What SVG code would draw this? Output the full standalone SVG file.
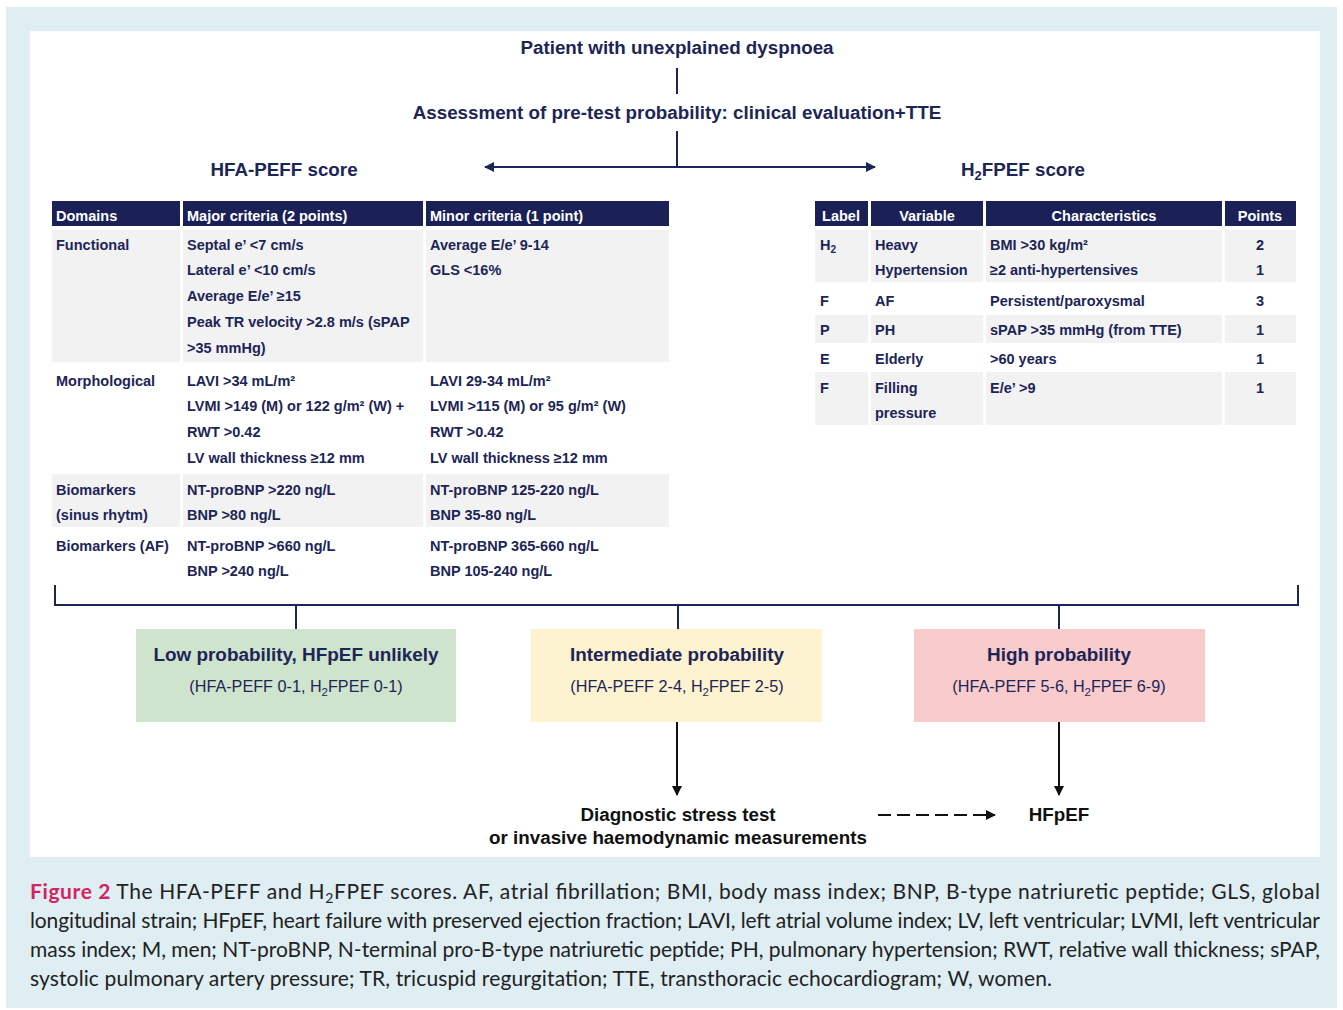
<svg xmlns="http://www.w3.org/2000/svg" width="1343" height="1010" viewBox="0 0 1343 1010">
<defs>
<style>
.t{font-family:"Liberation Sans",Arial,sans-serif;font-weight:bold;fill:#1d2556}
.h1{font-size:18.8px}
.c{font-size:14.5px}
.hd{font-size:14.5px;fill:#fff}
.bx{font-size:18.9px}
.sb{font-family:"Liberation Sans",Arial,sans-serif;font-size:16.2px;fill:#1d2556}
.k{font-family:"Liberation Sans",Arial,sans-serif;font-weight:bold;font-size:18.8px;fill:#111}
.cap{font-family:Lato,"Open Sans",sans-serif;font-size:21px;fill:#222}
.hdr{fill:#1b2157}
.g{fill:#f2f2f2}
.ln{stroke:#1d2556;stroke-width:2;fill:none}
.bk{stroke:#111;stroke-width:2;fill:none}
</style>
<marker id="an" viewBox="0 0 10 10" refX="9" refY="5" markerWidth="5" markerHeight="5" orient="auto-start-reverse"><path d="M0,0L10,5L0,10z" fill="#1d2556"/></marker>
<marker id="ak" viewBox="0 0 10 10" refX="9" refY="5" markerWidth="5" markerHeight="5" orient="auto-start-reverse"><path d="M0,0L10,5L0,10z" fill="#111"/></marker>
</defs>
<rect x="6" y="7" width="1331" height="1001" fill="#deeef3"/>
<rect x="30" y="31" width="1290" height="826" fill="#fff"/>

<g id="title">
<text class="t h1" x="677" y="54" text-anchor="middle">Patient with unexplained dyspnoea</text>
</g>
<g id="assessment">
<text class="t h1" x="677" y="119" text-anchor="middle">Assessment of pre-test probability: clinical evaluation+TTE</text>
</g>
<g id="hfa-title">
<text class="t h1" x="284" y="176" text-anchor="middle">HFA-PEFF score</text>
</g>
<g id="h2-title">
<text class="t h1" x="1023" y="176" text-anchor="middle">H<tspan font-size="13" dy="4">2</tspan><tspan dy="-4">FPEF score</tspan></text>
</g>

<g id="hfa-table">
<rect class="hdr" x="52" y="201" width="128" height="25"/>
<rect class="hdr" x="183" y="201" width="240" height="25"/>
<rect class="hdr" x="426" y="201" width="243" height="25"/>
<text class="t hd" x="56" y="221">Domains</text>
<text class="t hd" x="187" y="221">Major criteria (2 points)</text>
<text class="t hd" x="430" y="221">Minor criteria (1 point)</text>
<rect class="g" x="52" y="230" width="128" height="132"/>
<rect class="g" x="183" y="230" width="240" height="132"/>
<rect class="g" x="426" y="230" width="243" height="132"/>
<rect class="g" x="52" y="474" width="128" height="53"/>
<rect class="g" x="183" y="474" width="240" height="53"/>
<rect class="g" x="426" y="474" width="243" height="53"/>
<text class="t c" x="56" y="250">Functional</text>
<text class="t c" x="187" y="250">Septal e’ &lt;7 cm/s</text>
<text class="t c" x="187" y="275">Lateral e’ &lt;10 cm/s</text>
<text class="t c" x="187" y="301">Average E/e’ ≥15</text>
<text class="t c" x="187" y="327">Peak TR velocity &gt;2.8 m/s (sPAP</text>
<text class="t c" x="187" y="353">&gt;35 mmHg)</text>
<text class="t c" x="430" y="250">Average E/e’ 9-14</text>
<text class="t c" x="430" y="275">GLS &lt;16%</text>
<text class="t c" x="56" y="386">Morphological</text>
<text class="t c" x="187" y="386">LAVI &gt;34 mL/m²</text>
<text class="t c" x="187" y="411">LVMI &gt;149 (M) or 122 g/m² (W) +</text>
<text class="t c" x="187" y="437">RWT &gt;0.42</text>
<text class="t c" x="187" y="463">LV wall thickness ≥12 mm</text>
<text class="t c" x="430" y="386">LAVI 29-34 mL/m²</text>
<text class="t c" x="430" y="411">LVMI &gt;115 (M) or 95 g/m² (W)</text>
<text class="t c" x="430" y="437">RWT &gt;0.42</text>
<text class="t c" x="430" y="463">LV wall thickness ≥12 mm</text>
<text class="t c" x="56" y="495">Biomarkers</text>
<text class="t c" x="56" y="520">(sinus rhytm)</text>
<text class="t c" x="187" y="495">NT-proBNP &gt;220 ng/L</text>
<text class="t c" x="187" y="520">BNP &gt;80 ng/L</text>
<text class="t c" x="430" y="495">NT-proBNP 125-220 ng/L</text>
<text class="t c" x="430" y="520">BNP 35-80 ng/L</text>
<text class="t c" x="56" y="551">Biomarkers (AF)</text>
<text class="t c" x="187" y="551">NT-proBNP &gt;660 ng/L</text>
<text class="t c" x="187" y="576">BNP &gt;240 ng/L</text>
<text class="t c" x="430" y="551">NT-proBNP 365-660 ng/L</text>
<text class="t c" x="430" y="576">BNP 105-240 ng/L</text>
</g>

<g id="h2fpef-table">
<rect class="hdr" x="815" y="201" width="53" height="25"/>
<rect class="hdr" x="871" y="201" width="112" height="25"/>
<rect class="hdr" x="986" y="201" width="236" height="25"/>
<rect class="hdr" x="1225" y="201" width="71" height="25"/>
<text class="t hd" x="841" y="221" text-anchor="middle">Label</text>
<text class="t hd" x="927" y="221" text-anchor="middle">Variable</text>
<text class="t hd" x="1104" y="221" text-anchor="middle">Characteristics</text>
<text class="t hd" x="1260" y="221" text-anchor="middle">Points</text>
<rect class="g" x="815" y="230" width="53" height="52"/>
<rect class="g" x="871" y="230" width="112" height="52"/>
<rect class="g" x="986" y="230" width="236" height="52"/>
<rect class="g" x="1225" y="230" width="71" height="52"/>
<rect class="g" x="815" y="315" width="53" height="28"/>
<rect class="g" x="871" y="315" width="112" height="28"/>
<rect class="g" x="986" y="315" width="236" height="28"/>
<rect class="g" x="1225" y="315" width="71" height="28"/>
<rect class="g" x="815" y="372" width="53" height="53"/>
<rect class="g" x="871" y="372" width="112" height="53"/>
<rect class="g" x="986" y="372" width="236" height="53"/>
<rect class="g" x="1225" y="372" width="71" height="53"/>
<text class="t c" x="820" y="250">H<tspan font-size="10" dy="3">2</tspan></text>
<text class="t c" x="875" y="250">Heavy</text>
<text class="t c" x="875" y="275">Hypertension</text>
<text class="t c" x="990" y="250">BMI &gt;30 kg/m²</text>
<text class="t c" x="990" y="275">≥2 anti-hypertensives</text>
<text class="t c" x="1260" y="250" text-anchor="middle">2</text>
<text class="t c" x="1260" y="275" text-anchor="middle">1</text>
<text class="t c" x="820" y="306">F</text>
<text class="t c" x="875" y="306">AF</text>
<text class="t c" x="990" y="306">Persistent/paroxysmal</text>
<text class="t c" x="1260" y="306" text-anchor="middle">3</text>
<text class="t c" x="820" y="335">P</text>
<text class="t c" x="875" y="335">PH</text>
<text class="t c" x="990" y="335">sPAP &gt;35 mmHg (from TTE)</text>
<text class="t c" x="1260" y="335" text-anchor="middle">1</text>
<text class="t c" x="820" y="364">E</text>
<text class="t c" x="875" y="364">Elderly</text>
<text class="t c" x="990" y="364">&gt;60 years</text>
<text class="t c" x="1260" y="364" text-anchor="middle">1</text>
<text class="t c" x="820" y="393">F</text>
<text class="t c" x="875" y="393">Filling</text>
<text class="t c" x="875" y="418">pressure</text>
<text class="t c" x="990" y="393">E/e’ &gt;9</text>
<text class="t c" x="1260" y="393" text-anchor="middle">1</text>
</g>

<g id="connectors">
<line class="ln" x1="677" y1="68" x2="677" y2="94"/>
<line class="ln" x1="677" y1="131" x2="677" y2="167"/>
<line class="ln" x1="485" y1="167" x2="875" y2="167" marker-start="url(#an)" marker-end="url(#an)"/>
<path class="ln" d="M55,585V605H1298V585"/>
<line class="ln" x1="296" y1="605" x2="296" y2="629"/>
<line class="ln" x1="678" y1="605" x2="678" y2="629"/>
<line class="ln" x1="1059" y1="605" x2="1059" y2="629"/>
<line class="bk" x1="677" y1="722" x2="677" y2="795" marker-end="url(#ak)"/>
<line class="bk" x1="1059" y1="722" x2="1059" y2="795" marker-end="url(#ak)"/>
<line class="bk" x1="878" y1="815" x2="995" y2="815" stroke-dasharray="13,6" marker-end="url(#ak)"/>
</g>

<g id="low">
<rect x="136" y="629" width="320" height="93" fill="#cee4cd"/>
<text class="t bx" x="296" y="661" text-anchor="middle">Low probability, HFpEF unlikely</text>
<text class="sb" x="296" y="692" text-anchor="middle">(HFA-PEFF 0-1, H<tspan font-size="11.5" dy="4">2</tspan><tspan dy="-4">FPEF 0-1)</tspan></text>
</g>
<g id="intermediate">
<rect x="531" y="629" width="291" height="93" fill="#fdf3d0"/>
<text class="t bx" x="677" y="661" text-anchor="middle">Intermediate probability</text>
<text class="sb" x="677" y="692" text-anchor="middle">(HFA-PEFF 2-4, H<tspan font-size="11.5" dy="4">2</tspan><tspan dy="-4">FPEF 2-5)</tspan></text>
</g>
<g id="high">
<rect x="914" y="629" width="291" height="93" fill="#f8cbcd"/>
<text class="t bx" x="1059" y="661" text-anchor="middle">High probability</text>
<text class="sb" x="1059" y="692" text-anchor="middle">(HFA-PEFF 5-6, H<tspan font-size="11.5" dy="4">2</tspan><tspan dy="-4">FPEF 6-9)</tspan></text>
</g>
<g id="stress-test">
<text class="k" x="678" y="821" text-anchor="middle">Diagnostic stress test</text>
<text class="k" x="678" y="844" text-anchor="middle">or invasive haemodynamic measurements</text>
</g>
<g id="hfpef">
<text class="k" x="1059" y="821" text-anchor="middle">HFpEF</text>
</g>

<g id="caption">
<text class="cap" x="30" y="899" textLength="1290" lengthAdjust="spacing"><tspan font-weight="bold" fill="#d4245f">Figure 2</tspan> The HFA-PEFF and H<tspan font-size="14" dy="4">2</tspan><tspan dy="-4">FPEF scores. AF, atrial fibrillation; BMI, body mass index; BNP, B-type natriuretic peptide; GLS, global</tspan></text>
<text class="cap" x="30" y="928" textLength="1290" lengthAdjust="spacing">longitudinal strain; HFpEF, heart failure with preserved ejection fraction; LAVI, left atrial volume index; LV, left ventricular; LVMI, left ventricular</text>
<text class="cap" x="30" y="957" textLength="1290" lengthAdjust="spacing">mass index; M, men; NT-proBNP, N-terminal pro-B-type natriuretic peptide; PH, pulmonary hypertension; RWT, relative wall thickness; sPAP,</text>
<text class="cap" x="30" y="986" textLength="1022" lengthAdjust="spacing">systolic pulmonary artery pressure; TR, tricuspid regurgitation; TTE, transthoracic echocardiogram; W, women.</text>
</g>
</svg>
